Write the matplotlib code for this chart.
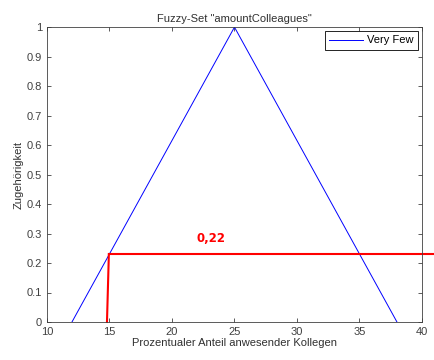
import matplotlib
matplotlib.use("Agg")
import matplotlib.pyplot as plt
import numpy as np

plt.rcParams['font.family'] = ['Liberation Sans', 'DejaVu Sans']

# membership function "Very Few"
tri_x = [12, 25, 38]
tri_y = [0, 1, 0]

# marked value
cut_x = [14.8, 14.95]
cut_y = 0.23
cut_label = "0,22"

x_ticks = [10, 15, 20, 25, 30, 35, 40]
y_ticks = [0, 0.1, 0.2, 0.3, 0.4, 0.5, 0.6, 0.7, 0.8, 0.9, 1]
y_labels = ["0", "0.1", "0.2", "0.3", "0.4", "0.5", "0.6", "0.7", "0.8", "0.9", "1"]

fig = plt.figure(figsize=(4.35, 3.6), dpi=100)
ax = fig.add_axes([0.108, 0.1056, 0.862, 0.819])

ax.plot(tri_x, tri_y, color="blue", lw=0.7, label="Very Few")

# red marker lines
ax.plot(cut_x, [0, cut_y], color="red", lw=1.5, clip_on=False)
ax.plot([cut_x[1], 41.2], [cut_y, cut_y], color="red", lw=1.5, clip_on=False)
ax.text(22, 0.27, cut_label, color="red", fontsize=8.5, fontweight="bold",
        family="DejaVu Sans")

ax.set_xlim(10, 40)
ax.set_ylim(0, 1)
ax.set_xticks(x_ticks)
ax.set_yticks(y_ticks)
ax.set_yticklabels(y_labels)
ax.tick_params(direction="in", top=True, right=True, labelsize=8,
               colors="#404040", length=3, width=0.6)
for s in ax.spines.values():
    s.set_linewidth(0.6)
    s.set_color("#404040")

ax.set_title('Fuzzy-Set "amountColleagues"', fontsize=8, color="#303030", pad=4)
ax.set_xlabel("Prozentualer Anteil anwesender Kollegen", fontsize=8,
              color="#303030", labelpad=1)
ax.set_ylabel("Zugehörigkeit", fontsize=8, color="#303030", labelpad=2)

leg = ax.legend(loc="upper right", fontsize=8, fancybox=False, framealpha=1,
                edgecolor="black", handlelength=3.0, handletextpad=0.4,
                borderaxespad=0.35)
leg.get_frame().set_linewidth(0.6)

fig.savefig("out.png", dpi=100)
